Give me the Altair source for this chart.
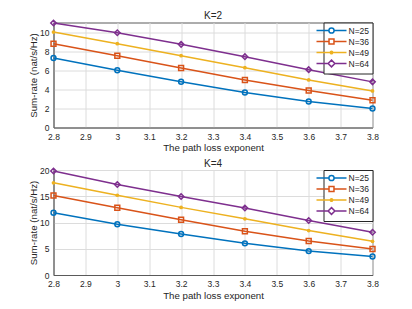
import altair as alt
import pandas as pd

# ---- data ----
x_vals = [2.8, 3.0, 3.2, 3.4, 3.6, 3.8]
series = ["N=25", "N=36", "N=49", "N=64"]

k2_n25 = [7.28, 6.00, 4.80, 3.66, 2.72, 1.99]
k2_n36 = [8.78, 7.52, 6.24, 4.98, 3.87, 2.86]
k2_n49 = [10.00, 8.78, 7.52, 6.27, 4.98, 3.83]
k2_n64 = [10.94, 9.93, 8.71, 7.42, 6.06, 4.78]

k4_n25 = [11.86, 9.68, 7.82, 6.03, 4.55, 3.53]
k4_n36 = [15.13, 12.82, 10.51, 8.33, 6.47, 4.94]
k4_n49 = [17.56, 15.19, 12.88, 10.70, 8.46, 6.41]
k4_n64 = [19.80, 17.24, 14.94, 12.76, 10.38, 8.14]

x_ticks = [2.8, 2.9, 3.0, 3.1, 3.2, 3.3, 3.4, 3.5, 3.6, 3.7, 3.8]
k2_yticks = [0, 2, 4, 6, 8, 10]
k4_yticks = [0, 5, 10, 15, 20]

colors = ["#0072BD", "#D95319", "#EDB120", "#7E2F8E"]
marker_shapes = ["circle", "square", "circle", "diamond"]
marker_filled = [False, False, True, False]
marker_sizes = [24, 24, 14, 30]

# legend glyphs: line segment + marker (custom SVG paths)
legend_paths = [
    "M-3.75,0H-0.65M0.65,0H3.75M0.65,0A0.65,0.65,0,1,1,-0.65,0A0.65,0.65,0,1,1,0.65,0",
    "M-3.75,0H-0.62M0.62,0H3.75M-0.62,-0.62H0.62V0.62H-0.62Z",
    "M-3.75,0H3.75M0.3,0A0.3,0.3,0,1,1,-0.3,0A0.3,0.3,0,1,1,0.3,0",
    "M-3.75,0H-0.85M0.85,0H3.75M0,-0.85L0.85,0L0,0.85L-0.85,0Z",
]

FONT = "Liberation Sans"
TXT = "#262626"
AXC = "#5a5a5a"


def make_df(vals):
    rows = []
    for name, ys in zip(series, vals):
        for xv, yv in zip(x_vals, ys):
            rows.append({"x": xv, "rate": yv, "N": name})
    return pd.DataFrame(rows)


def panel(title, vals, ymax, yticks):
    df = make_df(vals)
    base = alt.Chart(df)
    xenc = alt.X(
        "x:Q",
        scale=alt.Scale(domain=[2.8, 3.8], nice=False, zero=False),
        axis=alt.Axis(values=x_ticks, format="~g", title="The path loss exponent", labelFlush=False),
    )
    yenc = alt.Y(
        "rate:Q",
        scale=alt.Scale(domain=[0, ymax], nice=False),
        axis=alt.Axis(values=yticks, title="Sum-rate (nat/s/Hz)", labelFlush=False),
    )
    cscale = alt.Scale(domain=series, range=colors)
    lines = base.mark_line(strokeWidth=1.5).encode(
        x=xenc, y=yenc, color=alt.Color("N:N", scale=cscale, legend=None)
    )
    layers = [lines]
    for name, shp, fl, sz in zip(series, marker_shapes, marker_filled, marker_sizes):
        layers.append(
            base.transform_filter(alt.datum.N == name)
            .mark_point(shape=shp, filled=fl, size=sz, strokeWidth=1.5, opacity=1)
            .encode(x=xenc, y=yenc, color=alt.Color("N:N", scale=cscale, legend=None))
        )
    leg = dict(
        orient="top-right",
        offset=0,
        title=None,
        symbolSize=64,
        symbolStrokeWidth=1.5,
        labelFont=FONT,
        labelFontSize=8.5,
        labelColor=TXT,
        labelOffset=12,
        strokeColor="#262626",
        fillColor="white",
        padding=3,
        rowPadding=-1,
    )
    legend_layer = (
        base.transform_filter(alt.datum.x > 100)
        .mark_point(filled=False, strokeWidth=1.5, opacity=1)
        .encode(
            x=xenc,
            y=yenc,
            color=alt.Color("N:N", scale=cscale, legend=alt.Legend(**leg)),
            shape=alt.Shape(
                "N:N", scale=alt.Scale(domain=series, range=legend_paths), legend=alt.Legend(**leg)
            ),
        )
    )
    layers.append(legend_layer)
    return (
        alt.layer(*layers)
        .resolve_scale(color="independent", shape="independent")
        .properties(
            width=319,
            height=105,
            title=alt.TitleParams(title, fontSize=10, fontWeight="normal", font=FONT, color=TXT, offset=-4),
        )
    )


top = panel("K=2", [k2_n25, k2_n36, k2_n49, k2_n64], 11, k2_yticks)
bottom = panel("K=4", [k4_n25, k4_n36, k4_n49, k4_n64], 20, k4_yticks)

chart = (
    alt.vconcat(top, bottom, spacing=4.5)
    .resolve_scale(color="independent", shape="independent")
    .resolve_legend(color="independent", shape="independent")
    .properties(padding={"left": 19.5, "top": 2.5, "right": 0, "bottom": 0})
    .configure_view(stroke=AXC, strokeWidth=1)
    .configure_axis(
        labelFont=FONT,
        labelFontSize=8.5,
        labelColor=TXT,
        labelPadding=4.5,
        titleFont=FONT,
        titleFontSize=9.7,
        titleFontWeight="normal",
        titleColor=TXT,
        ticks=False,
        domainColor=AXC,
        gridColor="#dcdcdc",
        gridOpacity=1,
    )
    .configure_axisY(titlePadding=1)
    .configure_axisX(titlePadding=2)
)

chart.save("out.html", embed_options={"renderer": "svg", "actions": False})
